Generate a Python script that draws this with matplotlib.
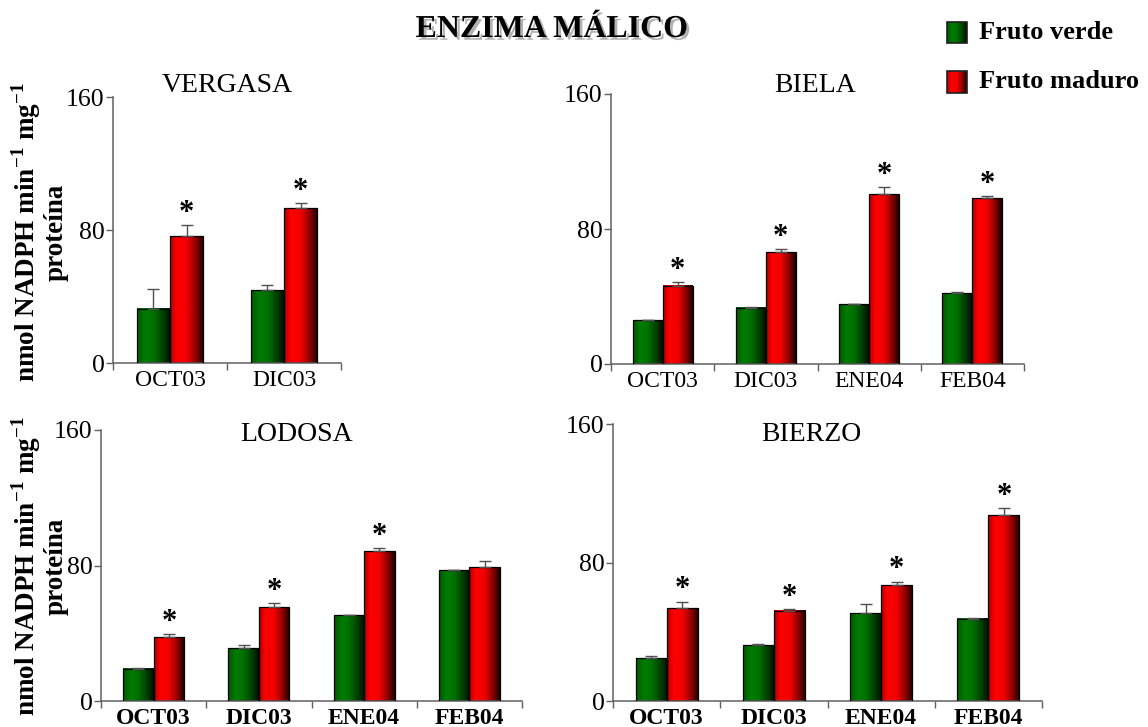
import numpy as np
import matplotlib
matplotlib.use("Agg")
import matplotlib.pyplot as plt
from matplotlib.colors import LinearSegmentedColormap
from matplotlib.patches import Rectangle
import matplotlib.patheffects as pe

plt.rcParams["font.family"] = ["Liberation Serif", "DejaVu Serif"]
plt.rcParams["mathtext.fontset"] = "custom"
plt.rcParams["mathtext.rm"] = "Liberation Serif"
plt.rcParams["mathtext.bf"] = "Liberation Serif:bold"

# ---- data (nmol NADPH min-1 mg-1 proteína) ----
vergasa_months = ["OCT03", "DIC03"]
vergasa_verde = [32.7, 43.7]
vergasa_verde_err = [11.6, 3.0]
vergasa_maduro = [76.2, 93.0]
vergasa_maduro_err = [6.6, 3.0]
vergasa_sig = [True, True]

biela_months = ["OCT03", "DIC03", "ENE04", "FEB04"]
biela_verde = [25.9, 33.2, 35.4, 42.0]
biela_verde_err = [0.4, 0.4, 0.4, 0.4]
biela_maduro = [46.5, 66.1, 100.7, 98.3]
biela_maduro_err = [2.0, 2.1, 4.3, 1.2]
biela_sig = [True, True, True, True]

lodosa_months = ["OCT03", "DIC03", "ENE04", "FEB04"]
lodosa_verde = [18.9, 31.1, 50.6, 77.1]
lodosa_verde_err = [0.3, 1.8, 0.3, 0.4]
lodosa_maduro = [37.6, 55.3, 88.4, 79.1]
lodosa_maduro_err = [1.9, 2.7, 1.7, 3.4]
lodosa_sig = [True, True, True, False]

bierzo_months = ["OCT03", "DIC03", "ENE04", "FEB04"]
bierzo_verde = [24.7, 32.2, 50.7, 47.4]
bierzo_verde_err = [1.1, 0.8, 5.2, 0.3]
bierzo_maduro = [53.6, 52.2, 66.9, 107.4]
bierzo_maduro_err = [3.8, 0.8, 2.1, 3.8]
bierzo_sig = [True, True, True, True]

series_names = ["Fruto verde", "Fruto maduro"]
panel_titles = ["VERGASA", "BIELA", "LODOSA", "BIERZO"]
main_title = "ENZIMA MÁLICO"
ylabel_text = ("nmol NADPH min$^{\\mathbf{-1}}$ mg$^{\\mathbf{-1}}$\nproteína")

W, H = 1148, 727
fig = plt.figure(figsize=(W / 100, H / 100), dpi=100)


def fx(x):
    return x / W


def fy(y):
    return 1 - y / H


# horizontal shading of each bar (cylinder look)
green_cmap = LinearSegmentedColormap.from_list(
    "verde", [(0.0, "#005800"), (0.25, "#007c00"), (0.5, "#007000"),
              (0.8, "#003a00"), (1.0, "#000c00")])
red_cmap = LinearSegmentedColormap.from_list(
    "maduro", [(0.0, "#b00000"), (0.2, "#ff0000"), (0.5, "#f00000"),
               (0.8, "#800000"), (1.0, "#1a0000")])
grad = np.linspace(0, 1, 64)[None, :]


def shaded_bars(ax, xs, heights, width, cmap):
    bars = ax.bar(xs, heights, width=width, facecolor="none",
                  edgecolor="black", linewidth=0.9, zorder=3)
    for b in bars:
        x0, w, h = b.get_x(), b.get_width(), b.get_height()
        ax.imshow(grad, cmap=cmap, extent=(x0, x0 + w, 0, h),
                  aspect="auto", interpolation="bilinear", zorder=2)
    return bars


panels = [
    (vergasa_months, vergasa_verde, vergasa_verde_err, vergasa_maduro,
     vergasa_maduro_err, vergasa_sig, (113, 341, 97, 363), False),
    (biela_months, biela_verde, biela_verde_err, biela_maduro,
     biela_maduro_err, biela_sig, (611, 1024, 94, 364), False),
    (lodosa_months, lodosa_verde, lodosa_verde_err, lodosa_maduro,
     lodosa_maduro_err, lodosa_sig, (101, 522, 430, 701), True),
    (bierzo_months, bierzo_verde, bierzo_verde_err, bierzo_maduro,
     bierzo_maduro_err, bierzo_sig, (613, 1042, 424, 701), True),
]

bw = 0.29
axes = []
for months, v, ve, m, me, sig, (l, r, t, b), bottom_row in panels:
    ax = fig.add_axes([fx(l), fy(b), fx(r - l), (b - t) / H])
    axes.append(ax)
    x = np.arange(len(months))
    shaded_bars(ax, x - bw / 2, v, bw, green_cmap)
    shaded_bars(ax, x + bw / 2, m, bw, red_cmap)
    ax.errorbar(x - bw / 2, v, yerr=[np.zeros(len(v)), ve], fmt="none",
                ecolor="#505050", elinewidth=1.0, capsize=4, capthick=1.0,
                zorder=4)
    ax.errorbar(x + bw / 2, m, yerr=[np.zeros(len(m)), me], fmt="none",
                ecolor="#505050", elinewidth=1.0, capsize=4, capthick=1.0,
                zorder=4)
    for xi, val, err, s in zip(x, m, me, sig):
        if s:
            ax.annotate("*", (xi + bw / 2, val + err), xytext=(0, 3),
                        textcoords="offset points", ha="center",
                        va="baseline", fontsize=22, fontweight="bold")
    ax.set_xlim(-0.5, len(months) - 0.5)
    ax.set_ylim(0, 160)
    ax.set_yticks([0, 80, 160])
    ax.set_xticks(np.arange(len(months) + 1) - 0.5)
    ax.set_xticklabels([])
    ax.set_xticks(x, minor=True)
    ax.set_xticklabels(months, minor=True, fontsize=17,
                       fontweight="bold" if bottom_row else "normal")
    ax.tick_params(axis="x", which="major", direction="out", length=5,
                   width=1, color="#606060")
    ax.tick_params(axis="x", which="minor", length=0, pad=5)
    ax.tick_params(axis="y", direction="out", length=5, width=1,
                   color="#606060", labelsize=18.5, pad=1)
    for side in ("top", "right"):
        ax.spines[side].set_visible(False)
    for side in ("left", "bottom"):
        ax.spines[side].set_color("#606060")
        ax.spines[side].set_linewidth(1.1)
    ax.patch.set_alpha(0)

# panel titles
title_pos = [(227, 92), (815, 92), (297, 441), (811, 441)]
for name, (tx, ty) in zip(panel_titles, title_pos):
    fig.text(fx(tx), fy(ty), name, ha="center", va="baseline", fontsize=20)

# main title with soft drop shadow
fig.text(fx(552), fy(37), main_title, ha="center", va="baseline",
         fontsize=23, fontweight="bold",
         path_effects=[pe.withSimplePatchShadow(offset=(2, -2),
                                                shadow_rgbFace="#808080",
                                                alpha=0.6)])

# y-axis labels
for cy in (232, 566):
    fig.text(fx(39), fy(cy), ylabel_text, rotation=90, ha="center",
             va="center", multialignment="center", fontsize=19.5,
             fontweight="bold", linespacing=1.05)

# legend with shaded swatches
ov = fig.add_axes([0, 0, 1, 1])
ov.set_xlim(0, W)
ov.set_ylim(H, 0)
ov.axis("off")
for name, cmap, (sy0, sy1) in zip(series_names, [green_cmap, red_cmap],
                                  [(22, 43), (71, 93)]):
    ov.imshow(grad, cmap=cmap, extent=(947, 967, sy1, sy0), aspect="auto",
              interpolation="bilinear", zorder=2)
    ov.add_patch(Rectangle((947, sy0), 20, sy1 - sy0, facecolor="none",
                           edgecolor="#202020", linewidth=1.2, zorder=3))
    ov.text(979, (sy0 + sy1) / 2, name, ha="left", va="center",
            fontsize=19, fontweight="bold")
ov.set_xlim(0, W)
ov.set_ylim(H, 0)

fig.savefig("out.png", dpi=100)
